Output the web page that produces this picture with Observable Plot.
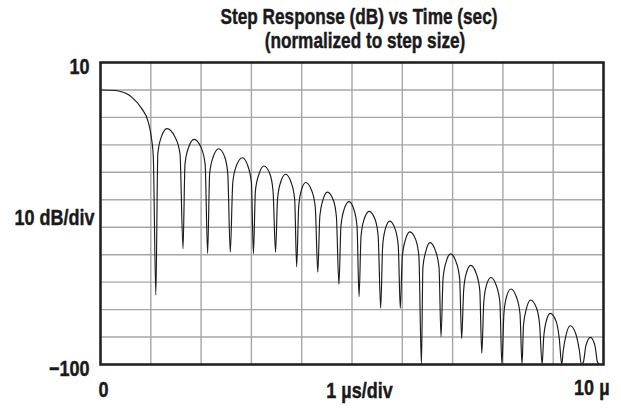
<!DOCTYPE html>
<html>
<head>
<meta charset="utf-8">
<script src="https://cdn.jsdelivr.net/npm/d3@7"></script>
<script src="https://cdn.jsdelivr.net/npm/@observablehq/plot@0.6"></script>
<style>
  html, body { margin: 0; padding: 0; background: #fff; }
  #wrap { position: relative; width: 621px; height: 410px; overflow: hidden; }
  .ttl { position: absolute; white-space: nowrap; transform: translateX(-50%) scaleX(0.8); transform-origin: center;
         font-family: "Liberation Sans", Arial, sans-serif; -webkit-text-stroke: 0.45px #1a1a1a;
         font-weight: bold; font-size: 21.5px; line-height: 21.5px; color: #1a1a1a; }
  #chart { position: absolute; left: 0; top: 60px; }
</style>
</head>
<body>
<div id="wrap">
  <div class="ttl" id="t1" style="left:358.5px; top:7px;"></div>
  <div class="ttl" id="t2" style="left:365px; top:31px;"></div>
  <div id="chart"></div>
</div>
<script>
// ---- data ----
const titleLines = ["Step Response (dB) vs Time (sec)", "(normalized to step size)"];
const xDomain = [0, 10];          // microseconds, 1 µs/div
const yDomain = [-100, 10];       // dB, 10 dB/div
const xGrid = [1, 2, 3, 4, 5, 6, 7, 8, 9];
const yGrid = [0, -10, -20, -30, -40, -50, -60, -70, -80, -90];
const yTickValues = [10, -100];
const yTickText = ["10", "\u2212100"];
const yAxisText = "10 dB/div";
const xStartText = "0";
const xMidText = "1 \u00b5s/div";
const xEndText = "10 \u00b5";

const traceT = [
  0, 0.20, 0.36, 0.62, 0.82, 0.95, 1.02, 1.05, 1.10,
  1.14, 1.21, 1.32, 1.48, 1.58, 1.64,
  1.68, 1.75, 1.86, 2.00, 2.08, 2.13,
  2.17, 2.24, 2.35, 2.47, 2.53, 2.58,
  2.63, 2.70, 2.82, 2.93, 3.00, 3.04,
  3.08, 3.15, 3.25, 3.37, 3.43, 3.48,
  3.52, 3.58, 3.68, 3.79, 3.86, 3.90,
  3.94, 3.99, 4.08, 4.20, 4.27, 4.32,
  4.36, 4.42, 4.51, 4.63, 4.69, 4.74,
  4.78, 4.84, 4.94, 5.04, 5.10, 5.14,
  5.18, 5.24, 5.34, 5.46, 5.52, 5.57,
  5.61, 5.66, 5.75, 5.86, 5.92, 5.96,
  6.00, 6.06, 6.15, 6.27, 6.33, 6.38,
  6.41, 6.47, 6.55, 6.66, 6.73, 6.77,
  6.81, 6.87, 6.96, 7.07, 7.14, 7.18,
  7.22, 7.27, 7.36, 7.47, 7.54, 7.58,
  7.62, 7.67, 7.76, 7.87, 7.94, 7.98,
  8.02, 8.07, 8.16, 8.27, 8.34, 8.38,
  8.41, 8.47, 8.55, 8.67, 8.73, 8.78,
  8.81, 8.86, 8.94, 9.06, 9.12, 9.17,
  9.20, 9.26, 9.34, 9.45, 9.52, 9.56,
  9.60, 9.65, 9.74, 9.83, 9.88, 9.92
];
const traceDb = [
  0, -0.1, -0.4, -2.6, -6.8, -11.7, -18.4, -24.4, -74.7,
  -23.1, -17.1, -14.1, -17.1, -23.1, -57.8,
  -27.0, -21.0, -18.0, -21.0, -27.0, -59.6,
  -30.4, -24.4, -21.4, -24.4, -30.4, -59.1,
  -33.7, -27.7, -24.7, -27.7, -33.7, -59.6,
  -36.7, -30.7, -27.7, -30.7, -36.7, -59.1,
  -39.7, -33.7, -30.7, -33.7, -39.7, -64.4,
  -42.7, -36.7, -33.7, -36.7, -42.7, -66.4,
  -46.2, -40.2, -37.2, -40.2, -46.2, -70.8,
  -49.7, -43.7, -40.7, -43.7, -49.7, -75.3,
  -53.2, -47.2, -44.2, -47.2, -53.2, -79.5,
  -56.8, -50.8, -47.8, -50.8, -56.8, -79.5,
  -60.7, -54.7, -51.7, -54.7, -60.7, -100,
  -64.6, -58.6, -55.6, -58.6, -64.6, -89.9,
  -68.7, -62.7, -59.7, -62.7, -68.7, -90.5,
  -72.9, -66.9, -63.9, -66.9, -72.9, -95.9,
  -77.3, -71.3, -68.3, -71.3, -77.3, -100,
  -81.5, -75.5, -72.5, -75.5, -81.5, -100,
  -85.5, -79.5, -76.5, -79.5, -85.5, -100,
  -90.4, -84.4, -81.4, -84.4, -90.4, -100,
  -94.9, -88.9, -85.9, -88.9, -94.9, -100,
  -99.1, -93.1, -90.1, -93.1, -99.1, -100
];

const trace = traceT.map((t, i) => ({t, db: traceDb[i]}));

document.getElementById("t1").textContent = titleLines[0];
document.getElementById("t2").textContent = titleLines[1];

const font = '"Liberation Sans", Arial, sans-serif';
const ink = "#1a1a1a";
const txt = {fill: ink, stroke: ink, strokeWidth: 0.45};

const chart = Plot.plot({
  width: 621,
  height: 350,
  marginLeft: 100,
  marginRight: 18,
  marginTop: 2,
  marginBottom: 46,
  x: {domain: xDomain, axis: null},
  y: {domain: yDomain, axis: null},
  style: {fontFamily: font, fontSize: "22.5px", fontWeight: "bold", background: "#fff", overflow: "visible", color: ink},
  marks: [
    Plot.gridX(xGrid, {stroke: "#a6a6a6", strokeOpacity: 1, strokeWidth: 1.4}),
    Plot.gridY(yGrid, {stroke: "#a6a6a6", strokeOpacity: 1, strokeWidth: 1.4}),
    Plot.line(trace, {x: "t", y: "db", curve: "monotone-x", clip: true, stroke: ink, strokeWidth: 1.15}),
    Plot.frame({stroke: "#222", strokeWidth: 2.6}),
    Plot.text(yTickValues, {y: d => d, text: (d, i) => yTickText[i], frameAnchor: "left", textAnchor: "end", dx: -11, dy: 4, ...txt}),
    Plot.text([yAxisText], {text: d => d, frameAnchor: "left", textAnchor: "end", dx: -6, dy: 4, ...txt}),
    Plot.text([xDomain[0]], {x: d => d, text: [xStartText], frameAnchor: "bottom", textAnchor: "start", lineAnchor: "top", dx: -2, dy: 17, ...txt}),
    Plot.text([xMidText], {text: d => d, frameAnchor: "bottom", textAnchor: "middle", lineAnchor: "top", dx: 7.5, dy: 18, ...txt}),
    Plot.text([xDomain[1]], {x: d => d, text: [xEndText], frameAnchor: "bottom", textAnchor: "end", lineAnchor: "top", dx: 6, dy: 15, ...txt})
  ]
});
document.getElementById("chart").appendChild(chart);

// condense the label glyphs (narrow bold face look)
chart.querySelectorAll("text").forEach(el => {
  const w = el.getComputedTextLength();
  if (w > 0) {
    el.setAttribute("textLength", (w * 0.8).toFixed(2));
    el.setAttribute("lengthAdjust", "spacingAndGlyphs");
  }
});
</script>
</body>
</html>
